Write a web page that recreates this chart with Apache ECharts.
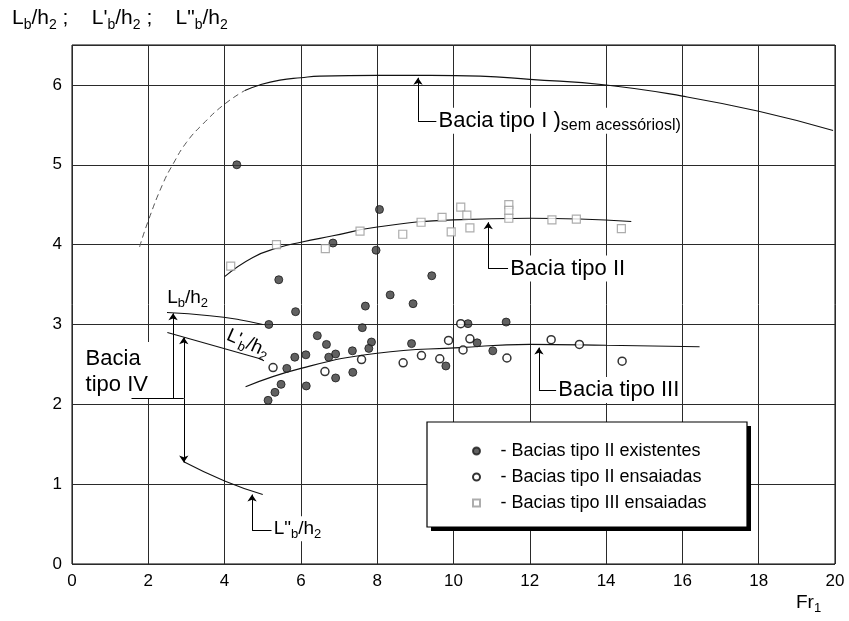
<!DOCTYPE html>
<html>
<head>
<meta charset="utf-8">
<script src="https://cdn.jsdelivr.net/npm/echarts@6/dist/echarts.min.js"></script>
<style>
html,body{margin:0;padding:0;background:#fff}
#chart{width:849px;height:621px}
</style>
</head>
<body>
<div id="chart"></div>
<script>
// pontos medidos (Fr1, L/h2)
var existentes = [[4.32,5.00],[8.06,4.44],[6.84,4.02],[7.97,3.93],[5.42,3.56],[5.86,3.16],[5.16,3.00],
  [9.43,3.61],[8.34,3.37],[8.94,3.26],[7.69,3.23],[7.61,2.96],[6.43,2.86],[6.67,2.75],[7.85,2.78],
  [7.78,2.70],[7.35,2.67],[6.91,2.63],[6.73,2.59],[6.13,2.62],[5.84,2.59],[8.90,2.76],[9.80,2.48],
  [5.63,2.45],[5.48,2.25],[5.32,2.15],[5.14,2.05],[6.14,2.23],[6.91,2.33],[7.36,2.40],[10.38,3.01],
  [11.38,3.03],[10.62,2.77],[11.03,2.67]];
var ensaiadasII = [[5.27,2.46],[6.63,2.41],[7.59,2.56],[8.68,2.52],[9.16,2.61],[9.64,2.57],[9.87,2.80],
  [10.19,3.01],[10.25,2.68],[10.43,2.82],[11.40,2.58],[12.56,2.81],[13.30,2.75],[14.42,2.54]];
var ensaiadasIII = [[4.16,3.73],[5.36,4.00],[6.64,3.95],[7.55,4.17],[8.67,4.13],[9.15,4.28],[9.70,4.34],
  [9.94,4.16],[10.19,4.47],[10.35,4.37],[10.43,4.21],[11.45,4.50],[11.45,4.43],[11.45,4.33],
  [12.58,4.31],[13.22,4.32],[14.40,4.20]];

// curvas
var tipoI_trac = [[1.77,3.97],[2.0,4.30],[2.38,4.76],[2.65,5.01],[3.0,5.28],[3.43,5.51],[4.0,5.76],[4.53,5.93]];
var tipoI = [[4.53,5.93],[4.92,6.00],[5.45,6.06],[6.0,6.09],[6.5,6.11],[8.0,6.12],[9.4,6.12],[10.7,6.11],
  [12.0,6.07],[14.0,6.00],[16.0,5.86],[18.0,5.67],[19.95,5.43]];
var tipoII = [[4.0,3.60],[4.74,3.84],[5.4,3.96],[6.0,4.03],[6.84,4.11],[8.0,4.22],[10.0,4.31],[12.0,4.33],[13.3,4.32],[14.66,4.29]];
var tipoIII = [[4.55,2.22],[6.0,2.45],[8.0,2.64],[10.16,2.71],[12.0,2.75],[14.0,2.74],[16.45,2.72]];
var curvaLb = [[2.49,3.15],[3.61,3.11],[4.39,3.06],[5.0,3.00]];
var curvaL1b = [[2.5,2.90],[5.0,2.56]];
var curvaL2b = [[2.93,1.28],[4.0,1.04],[5.0,0.87]];

// chamadas horizontais e setas verticais
var chamadas = [
  [[9.55,5.55],[9.07,5.55]],
  [[11.43,3.70],[10.91,3.70]],
  [[12.69,2.18],[12.24,2.18]],
  [[5.23,0.425],[4.72,0.425]],
  [[1.56,2.07],[2.93,2.07]]
];
var setas = [
  [[9.07,5.55],[9.07,6.09]],
  [[10.91,3.70],[10.91,4.28]],
  [[12.24,2.18],[12.24,2.71]],
  [[4.72,0.425],[4.72,0.87]],
  [[2.65,2.07],[2.65,3.14]],
  [[2.93,2.07],[2.93,2.84]],
  [[2.93,2.07],[2.93,1.27]]
];

var FONT = 'Liberation Sans, Arial, Helvetica, sans-serif';
var RICH = {
  m: {fontSize: 19, lineHeight: 25, fontFamily: FONT, fill: '#000'},
  s: {fontSize: 13, lineHeight: 13, verticalAlign: 'bottom', fontFamily: FONT, fill: '#000'},
  t: {fontSize: 21, lineHeight: 27, fontFamily: FONT, fill: '#000'},
  u: {fontSize: 14, lineHeight: 14, verticalAlign: 'bottom', fontFamily: FONT, fill: '#000'},
  a: {fontSize: 22, lineHeight: 26, fontFamily: FONT, fill: '#000'},
  b: {fontSize: 16, lineHeight: 20, verticalAlign: 'bottom', fontFamily: FONT, fill: '#000'}
};

var rotulos = [
  {at: [9.58,5.55], text: '{a|Bacia tipo I )}{b|sem acessóriosl)}', pad: [0, 1]},
  {at: [11.46,3.70], text: '{a|Bacia tipo II}', pad: [0, 1]},
  {at: [12.72,2.18], text: '{a|Bacia tipo III}', pad: [0, 1]},
  {at: [0.33,2.43], text: '{a|Bacia}\n{a|tipo IV}', pad: [4, 8, 0, 1]},
  {at: [2.47,3.34], text: '{m|L}{s|b}{m|/h}{s|2}', pad: [0, 1]},
  {at: [4.61,2.76], text: "{m|L'}{s|b}{m|/h}{s|2}", rot: -0.42, align: 'center'},
  {at: [5.26,0.44], text: '{m|L"}{s|b}{m|/h}{s|2}', pad: [0, 1]}
];

var chart = echarts.init(document.getElementById('chart'));

function curva(data, dashed) {
  return {
    type: 'line', data: data, smooth: true, showSymbol: false, symbol: 'none',
    silent: true, z: 1,
    lineStyle: dashed ? {color: '#555', width: 1, type: [6, 4]} : {color: '#111', width: 1.1}
  };
}

var option = {
  animation: false,
  backgroundColor: '#fff',
  grid: {left: 72, right: 14, top: 45, bottom: 57, show: true, borderColor: '#000', borderWidth: 1},
  xAxis: {
    type: 'value', min: 0, max: 20, interval: 2,
    axisLine: {show: false}, axisTick: {show: false},
    axisLabel: {color: '#000', fontSize: 17, fontFamily: FONT, margin: 9},
    splitLine: {lineStyle: {color: '#2a2a2a', width: 1}}
  },
  yAxis: {
    type: 'value', min: 0, max: 6.5, interval: 1,
    axisLine: {show: false}, axisTick: {show: false},
    axisLabel: {color: '#000', fontSize: 17, fontFamily: FONT, margin: 10,
      formatter: function (v) { return v % 1 === 0 ? v : ''; }},
    splitLine: {lineStyle: {color: '#2a2a2a', width: 1}}
  },
  legend: {
    data: [
      {name: 'Bacias tipo II existentes', icon: 'circle'},
      {name: 'Bacias tipo II ensaiadas', icon: 'circle'},
      {name: 'Bacias tipo III ensaiadas', icon: 'path://M0,0L10,0L10,10L0,10Z'}
    ],
    orient: 'vertical', left: 472, top: 442, padding: 0,
    itemWidth: 38, itemHeight: 7, itemGap: 8, selectedMode: false,
    formatter: '- {name}', z: 6,
    textStyle: {fontSize: 18, color: '#000', fontFamily: FONT}
  },
  series: [
    curva(tipoI_trac, true),
    curva(tipoI),
    curva(tipoII),
    curva(tipoIII),
    curva(curvaLb),
    curva(curvaL1b),
    curva(curvaL2b),
    {
      type: 'lines', coordinateSystem: 'cartesian2d', silent: true, z: 1,
      lineStyle: {color: '#000', width: 1, opacity: 1},
      data: chamadas.map(function (c) { return {coords: c}; })
    },
    {
      type: 'lines', coordinateSystem: 'cartesian2d', silent: true, z: 1,
      symbol: ['none', 'arrow'], symbolSize: 7,
      lineStyle: {color: '#000', width: 1, opacity: 1},
      data: setas.map(function (c) { return {coords: c}; })
    },
    {
      name: 'Bacias tipo II existentes', type: 'scatter', data: existentes,
      symbol: 'circle', symbolSize: 8,
      itemStyle: {color: '#3a3a3a', borderColor: '#1a1a1a', borderWidth: 1}
    },
    {
      name: 'Bacias tipo II ensaiadas', type: 'scatter', data: ensaiadasII,
      symbol: 'circle', symbolSize: 8,
      itemStyle: {color: '#fff', borderColor: '#000', borderWidth: 1.5}
    },
    {
      name: 'Bacias tipo III ensaiadas', type: 'scatter', data: ensaiadasIII,
      symbol: 'rect', symbolSize: 8,
      itemStyle: {color: '#fff', borderColor: '#999', borderWidth: 1.2}
    }
  ]
};

chart.setOption(option);

var graficos = [
  {type: 'rect', z: 2, shape: {x: 431, y: 426, width: 320, height: 105}, style: {fill: '#000'}},
  {type: 'rect', z: 3, shape: {x: 427, y: 422, width: 320, height: 105}, style: {fill: '#fff', stroke: '#000', lineWidth: 1.2}},
  {type: 'text', z: 5, x: 12, y: 5, style: {text: '{t|L}{u|b}{t|/h}{u|2}{t| ;    L\'}{u|b}{t|/h}{u|2}{t| ;    L"}{u|b}{t|/h}{u|2}', rich: RICH}},
  {type: 'text', z: 5, x: 796, y: 590, style: {text: '{m|Fr}{s|1}', rich: RICH}}
];
rotulos.forEach(function (r) {
  var p = chart.convertToPixel({gridIndex: 0}, r.at);
  graficos.push({
    type: 'text', z: 5, x: p[0], y: p[1], rotation: r.rot || 0,
    style: {
      text: r.text, rich: RICH, align: r.align || 'left', verticalAlign: 'middle',
      backgroundColor: r.pad ? '#fff' : 'transparent', padding: r.pad || 0
    }
  });
});
chart.setOption({graphic: graficos});
</script>
</body>
</html>
